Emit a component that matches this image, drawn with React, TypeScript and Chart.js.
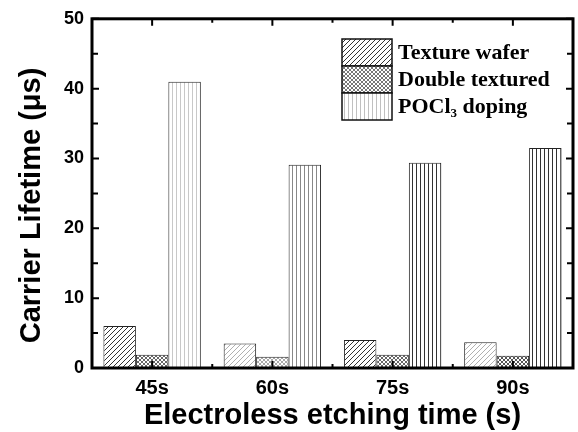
import React, { useEffect, useRef } from 'react';
import { Chart, registerables } from 'chart.js';

Chart.register(...registerables);

const categories = ['45s', '60s', '75s', '90s'];
const textureWafer = [6.0, 3.5, 4.0, 3.7];
const doubleTextured = [1.9, 1.6, 1.9, 1.75];
const pocl3Doping = [41.0, 29.1, 29.4, 31.5];
const seriesLabels = ['Texture wafer', 'Double textured', 'POCl₃ doping'];
const yTicks = [0, 10, 20, 30, 40, 50];
const xTitle = 'Electroless etching time (s)';
const yTitle = 'Carrier Lifetime (μs)';

// styles (per-bar shading of the hatch lines)
const textureShade = ['#333', '#b0b0b0', '#333', '#b0b0b0'];
const doubleShade = ['#666', '#aaa', '#666', '#555'];
const pocShade = ['#c8c8c8', '#888', '#333', '#333'];
const legendShade = ['#333', '#777', '#c0c0c0'];

type Kind = 'diag' | 'cross' | 'vert';

function makePattern(kind: Kind, color: string): CanvasPattern {
  const size = kind === 'diag' ? 5 : 4;
  const c = document.createElement('canvas');
  c.width = size;
  c.height = size;
  const g = c.getContext('2d')!;
  g.fillStyle = '#fff';
  g.fillRect(0, 0, size, size);
  g.strokeStyle = color;
  g.lineWidth = 1;
  g.beginPath();
  if (kind === 'diag' || kind === 'cross') {
    g.moveTo(-1, size + 1);
    g.lineTo(size + 1, -1);
    g.moveTo(-2, 2);
    g.lineTo(2, -2);
    g.moveTo(size - 2, size + 2);
    g.lineTo(size + 2, size - 2);
  }
  if (kind === 'cross') {
    g.moveTo(-1, -1);
    g.lineTo(size + 1, size + 1);
    g.moveTo(-2, size - 2);
    g.lineTo(2, size + 2);
    g.moveTo(size - 2, -2);
    g.lineTo(size + 2, 2);
  }
  if (kind === 'vert') {
    g.moveTo(0.5, 0);
    g.lineTo(0.5, size);
  }
  g.stroke();
  return g.createPattern(c, 'repeat')!;
}

const kinds: Kind[] = ['diag', 'cross', 'vert'];

export default function App() {
  const ref = useRef<HTMLCanvasElement | null>(null);

  useEffect(() => {
    const canvas = ref.current;
    if (!canvas) return;
    const shades = [textureShade, doubleShade, pocShade];
    const barPatterns = shades.map((arr, k) => arr.map((col) => makePattern(kinds[k], col)));
    const legendPatterns = legendShade.map((col, k) => makePattern(kinds[k], col));
    const values = [textureWafer, doubleTextured, pocl3Doping];

    const framePlugin = {
      id: 'frameAndLegend',
      afterDraw(chart: any) {
        const { ctx, chartArea: a, scales } = chart;
        const x = scales.x;
        const y = scales.y;
        ctx.save();
        ctx.strokeStyle = '#000';
        ctx.lineWidth = 2;
        // y ticks (major + minor)
        for (let i = 0; i < yTicks.length; i++) {
          const vals = [yTicks[i]];
          if (i < yTicks.length - 1) vals.push((yTicks[i] + yTicks[i + 1]) / 2);
          vals.forEach((v, j) => {
            const py = y.getPixelForValue(v);
            const len = j === 0 ? 7 : 6;
            ctx.beginPath();
            ctx.moveTo(a.left, py);
            ctx.lineTo(a.left + len, py);
            ctx.moveTo(a.right, py);
            ctx.lineTo(a.right - len, py);
            ctx.stroke();
          });
        }
        // x ticks
        for (let i = 0; i < categories.length; i++) {
          const px = x.getPixelForValue(i);
          ctx.beginPath();
          ctx.moveTo(px, a.bottom);
          ctx.lineTo(px, a.bottom - 7);
          ctx.moveTo(px, a.top);
          ctx.lineTo(px, a.top + 7);
          ctx.stroke();
          if (i < categories.length - 1) {
            const mx = (px + x.getPixelForValue(i + 1)) / 2;
            ctx.beginPath();
            ctx.moveTo(mx, a.bottom);
            ctx.lineTo(mx, a.bottom - 4);
            ctx.moveTo(mx, a.top);
            ctx.lineTo(mx, a.top + 4);
            ctx.stroke();
          }
        }
        ctx.lineWidth = 3;
        ctx.strokeRect(a.left, a.top, a.right - a.left, a.bottom - a.top);

        // legend
        const bx = 342;
        const bw = 50;
        const bh = 27;
        let by = 39;
        chart.data.datasets.forEach((ds: any, k: number) => {
          ctx.fillStyle = legendPatterns[k];
          ctx.fillRect(bx, by, bw, bh);
          ctx.lineWidth = 1.5;
          ctx.strokeStyle = '#111';
          ctx.strokeRect(bx, by, bw, bh);
          ctx.fillStyle = '#000';
          ctx.textBaseline = 'middle';
          ctx.textAlign = 'left';
          const cy = by + bh / 2 + 1;
          let tx = 398;
          const parts = String(ds.label).split('₃');
          parts.forEach((p: string, idx: number) => {
            ctx.font = 'bold 22px "Liberation Serif", "Times New Roman", serif';
            ctx.fillText(p, tx, cy);
            tx += ctx.measureText(p).width;
            if (idx < parts.length - 1) {
              ctx.font = 'bold 13px "Liberation Serif", "Times New Roman", serif';
              ctx.fillText('3', tx, cy + 6);
              tx += ctx.measureText('3').width;
            }
          });
          by += bh;
        });
        ctx.restore();
      },
    };

    const tickFont = { family: '"Liberation Sans", Arial, sans-serif', weight: 'bold' as const, size: 20 };
    const titleFont = { family: '"Liberation Sans", Arial, sans-serif', weight: 'bold' as const, size: 29 };

    const chart = new Chart(canvas, {
      type: 'bar',
      data: {
        labels: categories,
        datasets: values.map((vals, k) => ({
          label: seriesLabels[k],
          data: vals,
          backgroundColor: (c: any) => barPatterns[k][c.dataIndex] ?? barPatterns[k][0],
          borderColor: '#222',
          borderWidth: 1,
          categoryPercentage: 0.81,
          barPercentage: 1,
        })),
      },
      options: {
        animation: false,
        responsive: false,
        maintainAspectRatio: false,
        layout: { padding: { top: 14, right: 5, left: 0, bottom: 0 } },
        plugins: { legend: { display: false }, tooltip: { enabled: false } },
        scales: {
          x: {
            grid: { display: false, drawTicks: false },
            border: { display: false },
            ticks: { font: tickFont, color: '#000', padding: 8 },
            title: { display: true, text: xTitle, font: titleFont, color: '#000', padding: { top: 0, bottom: -1 } },
            afterFit: (s: any) => {
              s.height = 64;
            },
          },
          y: {
            min: 0,
            max: 50,
            grid: { display: false, drawTicks: false },
            border: { display: false },
            ticks: { font: { ...tickFont, size: 18 }, color: '#000', padding: 8 },
            afterBuildTicks: (s: any) => {
              s.ticks = yTicks.map((v) => ({ value: v }));
            },
            title: { display: true, text: yTitle + '   ', font: titleFont, color: '#000', padding: { top: 15, bottom: 0 } },
            afterFit: (s: any) => {
              s.width = 92;
            },
          },
        },
      },
      plugins: [framePlugin],
    } as any);

    return () => chart.destroy();
  }, []);

  return (
    <div style={{ position: 'fixed', left: 0, top: 0, width: 578, height: 432, background: '#fff' }}>
      <canvas ref={ref} width={578} height={432} />
    </div>
  );
}
